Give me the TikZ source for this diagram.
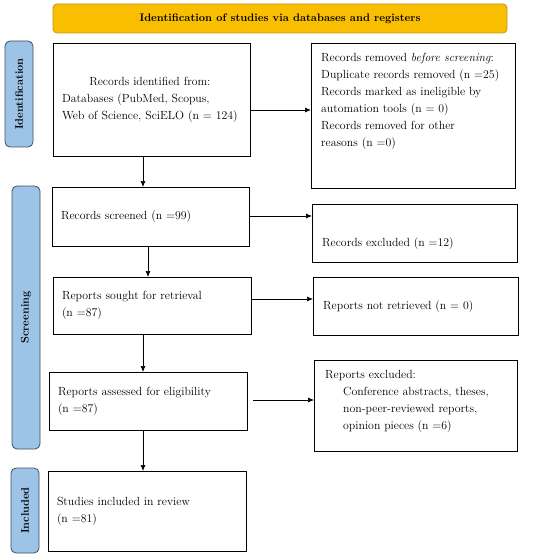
\documentclass[tikz,border=0pt]{standalone}
\usetikzlibrary{arrows.meta,calc}
\definecolor{bannerfill}{RGB}{250,190,0}
\definecolor{bannerline}{RGB}{200,150,20}
\definecolor{sidefill}{RGB}{157,195,230}
\definecolor{sideline}{RGB}{60,80,100}
\begin{document}
\begin{tikzpicture}[x=1pt,y=-1pt,
  txtfont/.style={font=\fontsize{11.8}{17}\selectfont},
  box/.style={draw=black,line width=0.8pt,inner sep=0pt,outer sep=0pt,fill=white},
  lbox/.style={box,txtfont,align=left,inner xsep=9pt,inner ysep=0pt},
  rtext/.style={txtfont,align=left,inner sep=0pt,anchor=north west},
  side/.style={draw=sideline,line width=0.8pt,fill=sidefill,rounded corners=5pt,
    minimum width=28pt,inner sep=0pt},
  sidetext/.style={font=\fontsize{11}{13}\selectfont\bfseries,rotate=90},
  arr/.style={-{Latex[length=6pt,width=5pt]},line width=0.7pt}]
\useasboundingbox (0,0) rectangle (550,556);

% banner
\node[draw=bannerline,line width=0.8pt,fill=bannerfill,rounded corners=4pt,
  minimum width=454pt,minimum height=29pt,inner sep=0pt,
  font=\fontsize{10.9}{13}\selectfont\bfseries] (banner) at (280,18.5)
  {Identification of studies via databases and registers};

% side labels
\node[side,minimum height=106pt] (L1) at (19,94) {};
\node[sidetext] (L1t) at (L1.center) {Identification};
\node[side,minimum height=263pt] (L2) at (26,317.5) {};
\node[sidetext] (L2t) at (L2.center) {Screening};
\node[side,minimum height=85pt] (L3) at (25,510.5) {};
\node[sidetext] (L3t) at (L3.center) {Included};

% left column
\node[lbox,text width=179pt,minimum height=113pt] (b1) at (151.5,99.5)
  {\begin{tabular}{@{}l@{}}\multicolumn{1}{@{}c@{}}{Records identified from:}\\
   Databases (PubMed, Scopus,\\ Web of Science, SciELO (n = 124)\end{tabular}};
\node[lbox,text width=179pt,minimum height=59pt] (b2) at (150.5,216.5)
  {Records screened (n =99)};
\node[lbox,text width=180pt,minimum height=57pt] (b3) at (152,305.5)
  {Reports sought for retrieval\\(n =87)};
\node[lbox,text width=180pt,minimum height=58pt] (b4) at (148,401)
  {Reports assessed for eligibility\\(n =87)};
\node[lbox,text width=180pt,minimum height=80pt] (b5) at (147,511)
  {Studies included in review\\(n =81)};

% right column
\node[box,minimum width=204pt,minimum height=145pt] (r1) at (413,115.5) {};
\node[rtext] (r1t) at ($(r1.north west)+(10,10)$)
  {Records removed \textit{before screening}:\\
   Duplicate records removed (n =25)\\
   Records marked as ineligible by\\
   automation tools (n = 0)\\
   Records removed for other\\
   reasons (n =0)};
\node[box,minimum width=205pt,minimum height=58pt] (r2) at (414.5,233) {};
\node[rtext,anchor=west] (r2t) at ($(r2.west)+(10,11)$) {Records excluded (n =12)};
\node[box,minimum width=205pt,minimum height=58pt] (r3) at (415.5,306) {};
\node[rtext,anchor=west] (r3t) at ($(r3.west)+(10,1)$) {Reports not retrieved (n = 0)};
\node[box,minimum width=203pt,minimum height=91pt] (r4) at (415.5,405.5) {};
\node[rtext] (r4t) at ($(r4.north west)+(11,10)$)
  {Reports excluded:\\
   \hspace*{18pt}Conference abstracts, theses,\\
   \hspace*{18pt}non-peer-reviewed reports,\\
   \hspace*{18pt}opinion pieces (n =6)};

% horizontal arrows
\draw[arr] ($(b1.east)+(0,10.5)$) coordinate (h1) -- (h1 -| r1.west);
\draw[arr] ($(b2.east)+(0,-0.5)$) coordinate (h2) -- (h2 -| r2.west);
\draw[arr] ($(b3.east)+(0,-6.5)$) coordinate (h3) -- (h3 -| r3.west);
\draw[arr] ($(b4.east)+(6,-1)$) coordinate (h4) -- (h4 -| r4.west);

% vertical arrows
\draw[arr] ($(b1.south)+(-8.5,0)$) coordinate (v1) -- (v1 |- b2.north);
\draw[arr] ($(b2.south)+(-2.5,0)$) coordinate (v2) -- (v2 |- b3.north);
\draw[arr] ($(b3.south)+(-9,0)$) coordinate (v3) -- (v3 |- b4.north);
\draw[arr] ($(b4.south)+(-5,0)$) coordinate (v4) -- (v4 |- b5.north);
\end{tikzpicture}
\end{document}
